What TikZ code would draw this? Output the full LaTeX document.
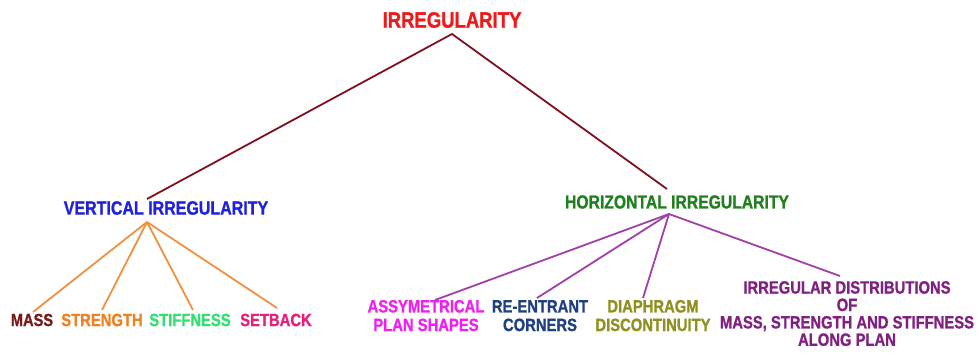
\documentclass[tikz,border=0pt]{standalone}
\usepackage{fontspec}
\setmainfont{Liberation Sans}[BoldFeatures={FakeBold=1.2}]
\usepackage{graphicx}
\definecolor{ctop}{HTML}{F01818}
\definecolor{ctopline}{HTML}{801020}
\definecolor{cvert}{HTML}{2020E0}
\definecolor{chor}{HTML}{208020}
\definecolor{corange}{HTML}{F09040}
\definecolor{cmass}{HTML}{7A1A1A}
\definecolor{cstrength}{HTML}{F08020}
\definecolor{cstiff}{HTML}{30E070}
\definecolor{csetback}{HTML}{E8207A}
\definecolor{cpurpline}{HTML}{A040A8}
\definecolor{cassym}{HTML}{F020F0}
\definecolor{creent}{HTML}{204080}
\definecolor{cdiaph}{HTML}{909020}
\definecolor{cirreg}{HTML}{802080}
\newcommand{\stretchtxt}[2]{\scalebox{1}[1.2]{\fontsize{#1}{#1}\selectfont\bfseries #2}}
\newcommand{\stack}[3]{\scalebox{1}[1.2]{\fontsize{#1}{#2}\selectfont\bfseries\begin{tabular}{@{}c@{}}#3\end{tabular}}}
\tikzset{
  lbl/.style={inner sep=0pt, outer sep=0pt, anchor=center},
  topline/.style={draw=ctopline, line width=1.8pt},
  orline/.style={draw=corange, line width=1.8pt},
  puline/.style={draw=cpurpline, line width=1.8pt}
}
\begin{document}
\begin{tikzpicture}[x=1pt,y=-1pt]
\useasboundingbox (0,0) rectangle (980,360);
\fill[white] (0,0) rectangle (980,360);
% labels
\node[lbl, text=ctop] (top) at (452,20) {\stretchtxt{18.5}{IRREGULARITY}};
\node[lbl, text=cvert] (vert) at (166,208) {\stretchtxt{16}{VERTICAL IRREGULARITY}};
\node[lbl, text=chor] (hor) at (677,202) {\stretchtxt{15.7}{HORIZONTAL IRREGULARITY}};
\node[lbl, text=cmass] (mass) at (32,320) {\stretchtxt{14.6}{MASS}};
\node[lbl, text=cstrength] (strength) at (102,320) {\stretchtxt{14.8}{STRENGTH}};
\node[lbl, text=cstiff] (stiff) at (190,320) {\stretchtxt{14.8}{STIFFNESS}};
\node[lbl, text=csetback] (setback) at (276,320) {\stretchtxt{14.8}{SETBACK}};
\node[lbl, text=cassym] (assym) at (426,318) {\stack{14.8}{15.5}{ASSYMETRICAL\\PLAN SHAPES}};
\node[lbl, text=creent] (reent) at (540,318) {\stack{14.8}{15.5}{RE-ENTRANT\\CORNERS}};
\node[lbl, text=cdiaph] (diaph) at (653,318) {\stack{14.8}{15.5}{DIAPHRAGM\\DISCONTINUITY}};
\node[lbl, text=cirreg] (irreg) at (847,316) {\stack{14.8}{13.9}{IRREGULAR DISTRIBUTIONS\\OF\\MASS, STRENGTH AND STIFFNESS\\ALONG PLAN}};
% connector points
\coordinate (topApex) at (452,34);
\coordinate (vertTop) at (147,199);
\coordinate (horTop) at (667,189);
\coordinate (vertApex) at (147,222);
\coordinate (horApex) at (669,214);
\coordinate (massEnd) at (33,312);
\coordinate (strengthEnd) at (102,310);
\coordinate (stiffEnd) at (193,310);
\coordinate (setbackEnd) at (277,308);
\coordinate (assymEnd) at (435,300);
\coordinate (reentEnd) at (537,298);
\coordinate (diaphEnd) at (643,298);
\coordinate (irregEnd) at (840,276);
% connectors
\draw[topline] (vertTop) -- (topApex) -- (horTop);
\foreach \e in {massEnd,strengthEnd,stiffEnd,setbackEnd}
  \draw[orline] (vertApex) -- (\e);
\foreach \e in {assymEnd,reentEnd,diaphEnd,irregEnd}
  \draw[puline] (horApex) -- (\e);
\end{tikzpicture}
\end{document}
